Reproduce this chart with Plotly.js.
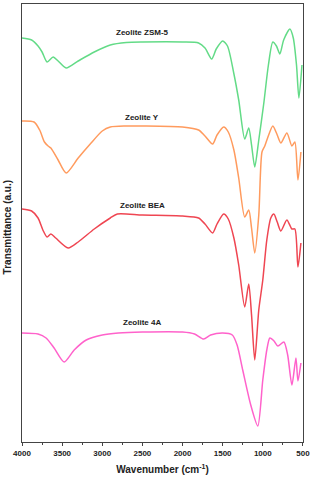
<!DOCTYPE html>
<html>
<head>
<meta charset="utf-8">
<script src="https://cdn.plot.ly/plotly-3.0.1.min.js"></script>
<style>html,body{margin:0;padding:0;background:#fff;}#chart{width:310px;height:480px;}</style>
</head>
<body>
<div id="chart"></div>
<script>
// Wavenumber (cm-1) and transmittance (a.u., stacked offsets)
var zsm5Wn = [4000,3880,3800,3750,3687,3612,3550,3450,3300,3100,2900,2700,2500,2000,1800,1720,1637,1580,1500,1440,1362,1300,1225,1175,1140,1100,1050,987,930,875,830,787,740,662,620,580,550,512];
var zsm5T  = [404,402,396,390,380,385,381,374,381,390,397,399.5,400,400,399,394,383,393,401,396,369,342,303,314,297,275,302,339,377,400,396,388,402,413,404,377,344,377];

var yWn = [4000,3850,3780,3720,3675,3640,3550,3450,3300,3150,3000,2900,2700,2500,2000,1800,1720,1625,1570,1487,1430,1360,1300,1225,1175,1140,1100,1050,1010,975,940,875,820,775,700,637,600,562,525];
var yT  = [321,320,312,300,296,294,282,269,284,298,311,315,316,316,315,312,306,298,307,315,310,292,264,225,232,214,189,227,290,296,304,316,307,299,309,296,300,262,290];

var beaWn = [4000,3880,3800,3740,3687,3640,3580,3425,3300,3100,2900,2812,2500,2000,1800,1720,1625,1570,1487,1430,1360,1300,1225,1175,1140,1100,1050,1000,950,900,862,820,775,700,637,600,562,525];
var beaT  = [233,231,224,212,205,208,204,194,200,213,224,228,227,226,224,218,209,218,228,223,204,177,135,158,127,82,132,162,202,224,228,220,211,222,213,213,175,199];

var a4Wn = [4000,3800,3700,3600,3475,3350,3200,3000,2800,2500,2000,1850,1737,1650,1500,1380,1320,1250,1150,1062,1000,950,912,860,812,737,690,637,587,562,525];
var a4T  = [109,108,104,94,80,92,102,107,109,110,110,108,103,107,109,107,97,72,37,16,62,92,104,101,96,100,87,57,84,61,79];

var seriesNames = ["Zeolite ZSM-5","Zeolite Y","Zeolite BEA","Zeolite 4A"];
var xTickVals = [4000,3500,3000,2500,2000,1500,1000,500];
var xTickText = ["4000","3500","3000","2500","2000","1500","1000","500"];

var colors = ["#63db87","#ff9b5e","#ef4652","#ff62cb"];
var xs = [zsm5Wn,yWn,beaWn,a4Wn];
var ys = [zsm5T,yT,beaT,a4T];
var labelY = [410,325,237,120];

var traces = xs.map(function(x,i){
  return {x:x,y:ys[i],type:'scatter',mode:'lines',name:seriesNames[i],
    line:{color:colors[i],width:1.5,shape:'spline',smoothing:0.7},hoverinfo:'skip'};
});

var annotations = seriesNames.map(function(n,i){
  return {x:2500,y:labelY[i],xref:'x',yref:'y',text:n,showarrow:false,
    font:{family:'Arial, Liberation Sans, sans-serif',size:8,color:'#222',weight:'bold'}};
});
annotations.push({xref:'paper',yref:'paper',x:0,y:0.49,xanchor:'center',yanchor:'middle',
  xshift:-15,textangle:-90,text:'Transmittance (a.u.)',showarrow:false,
  font:{family:'Arial, Liberation Sans, sans-serif',size:10,color:'#222',weight:'bold'}});

var layout = {
  width:310,height:480,
  margin:{l:22,r:7,t:4,b:38},
  paper_bgcolor:'#fff',plot_bgcolor:'#fff',
  showlegend:false,
  font:{family:'Arial, Liberation Sans, sans-serif',color:'#222'},
  xaxis:{range:[4000,499],autorange:false,showgrid:false,zeroline:false,
    showline:true,linecolor:'#444',linewidth:1,mirror:true,
    ticks:'outside',ticklen:3,tickcolor:'#444',tickwidth:1,
    tickvals:xTickVals,ticktext:xTickText,ticklabeloverflow:'allow',
    minor:{tickvals:[3750,3250,2750,2250,1750,1250,750],ticks:'outside',ticklen:2,tickcolor:'#444'},
    tickfont:{size:8,color:'#222',weight:'bold'},
    title:{text:'Wavenumber (cm<sup>-1</sup>)',font:{size:10,color:'#222',weight:'bold'},standoff:9}},
  yaxis:{range:[0,438],autorange:false,showgrid:false,zeroline:false,showticklabels:false,
    showline:true,linecolor:'#444',linewidth:1,mirror:true,ticks:''},
  annotations:annotations
};

Plotly.newPlot('chart',traces,layout,{displayModeBar:false,staticPlot:true});
</script>
</body>
</html>
